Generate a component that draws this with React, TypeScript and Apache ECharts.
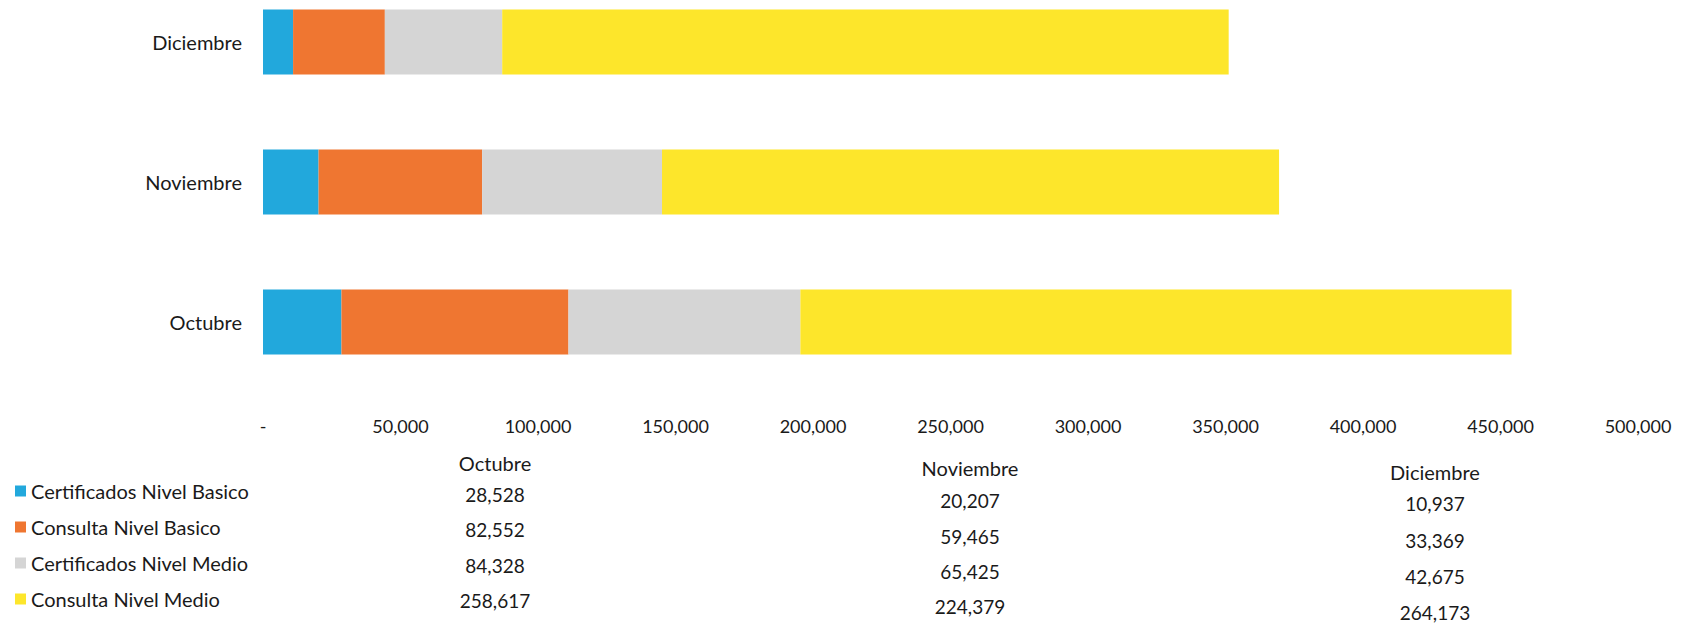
import React, { useEffect, useRef } from "react";
import * as echarts from "echarts";

const months = ["Octubre", "Noviembre", "Diciembre"];
const seriesNames = [
  "Certificados Nivel Basico",
  "Consulta Nivel Basico",
  "Certificados Nivel Medio",
  "Consulta Nivel Medio",
];
const certBasico = [28528, 20207, 10937];
const consBasico = [82552, 59465, 33369];
const certMedio = [84328, 65425, 42675];
const consMedio = [258617, 224379, 264173];
const colors = ["#22A8DC", "#EF7631", "#D5D5D5", "#FDE62B"];

const allValues = [certBasico, consBasico, certMedio, consMedio];

const fmt = (v: number) => (v === 0 ? "-" : v.toLocaleString("en-US"));

export default function App() {
  const ref = useRef<HTMLDivElement>(null);
  useEffect(() => {
    if (!ref.current) return;
    const chart = echarts.init(ref.current, undefined, { renderer: "svg" });
    const font = "Lato, 'Open Sans', sans-serif";
    const colX = [495, 970, 1435];
    const headerY = [463, 468, 472];
    const rowY = [
      [494, 529, 565, 600],
      [500, 536, 571, 606],
      [503, 540, 576, 612],
    ];
    const graphics: any[] = [];
    months.forEach((m, mi) => {
      graphics.push({
        type: "text",
        x: colX[mi],
        y: headerY[mi],
        style: {
          text: m,
          font: `20px ${font}`,
          fill: "#1a1a1a",
          align: "center",
          verticalAlign: "middle",
        },
      });
      allValues.forEach((arr, si) => {
        graphics.push({
          type: "text",
          x: colX[mi],
          y: rowY[mi][si],
          style: {
            text: fmt(arr[mi]),
            font: `19px ${font}`,
            fill: "#1a1a1a",
            align: "center",
            verticalAlign: "middle",
          },
        });
      });
    });
    chart.setOption({
      animation: false,
      textStyle: { fontFamily: font },
      grid: { left: 263, right: 45, top: 42, height: 280 },
      legend: {
        orient: "vertical",
        left: 10,
        top: 476,
        itemWidth: 11,
        itemHeight: 11,
        itemGap: 16,
        icon: "rect",
        textStyle: { fontSize: 20, color: "#1a1a1a", lineHeight: 20, fontFamily: font },
        data: seriesNames,
      },
      xAxis: {
        type: "value",
        min: 0,
        max: 500000,
        interval: 50000,
        axisLine: { show: false },
        axisTick: { show: false },
        splitLine: { show: false },
        axisLabel: {
          fontSize: 18,
          color: "#1a1a1a",
          margin: 95,
          formatter: (v: number) => fmt(v),
        },
      },
      yAxis: {
        type: "category",
        data: months,
        boundaryGap: false,
        axisLine: { show: false },
        axisTick: { show: false },
        axisLabel: { fontSize: 20, color: "#1a1a1a", margin: 21 },
      },
      series: allValues.map((arr, i) => ({
        name: seriesNames[i],
        type: "bar",
        stack: "total",
        data: arr,
        barWidth: 65,
        clip: false,
        itemStyle: { color: colors[i] },
      })),
      graphic: graphics,
    });
    return () => chart.dispose();
  }, []);
  return (
    <div
      ref={ref}
      style={{ position: "absolute", left: 0, top: 0, width: 1683, height: 624, background: "#fff" }}
    />
  );
}
